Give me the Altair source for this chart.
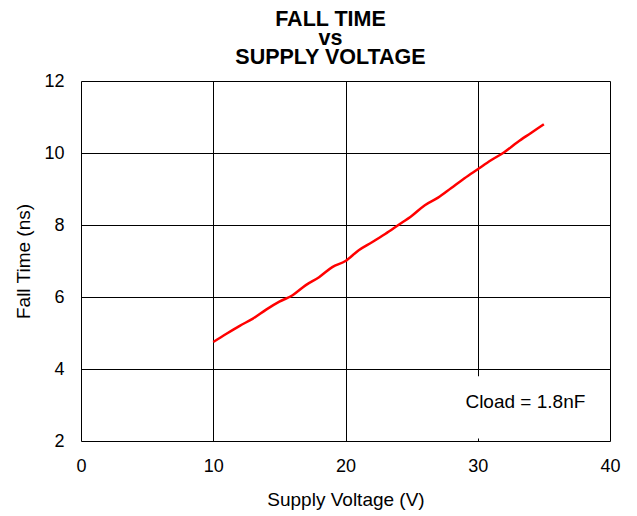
import altair as alt
import pandas as pd

voltage = [10, 11, 12, 13, 14, 15, 16, 17, 18, 19, 20, 21, 22, 23, 24, 25, 26, 27, 28, 29, 30, 31, 32, 33, 34, 35]
fall_time = [4.75, 4.98, 5.2, 5.4, 5.65, 5.87, 6.05, 6.33, 6.55, 6.83, 7.0, 7.3, 7.52, 7.75, 8.0, 8.25, 8.55, 8.76, 9.03, 9.3, 9.55, 9.8, 10.02, 10.3, 10.55, 10.8]
x_ticks = [0, 10, 20, 30, 40]
y_ticks = [2, 4, 6, 8, 10, 12]
note = "Cload = 1.8nF"

df = pd.DataFrame({"v": voltage, "t": fall_time})
FONT = "Liberation Sans"

xs = alt.Scale(domain=[0, 40], nice=False)
ys = alt.Scale(domain=[2, 12], nice=False)

common = dict(grid=True, gridColor="#000000", gridOpacity=1, gridWidth=1,
              ticks=False, domain=False, labelFlush=False, labelOverlap=False,
              labelFontSize=18, titleFontSize=19, labelFont=FONT, titleFont=FONT,
              labelColor="#000000", titleColor="#000000", titleFontWeight="normal")

line = alt.Chart(df).mark_line(color="#ff0000", strokeWidth=2.5, interpolate="monotone").encode(
    x=alt.X("v:Q", scale=xs, title="Supply Voltage (V)",
            axis=alt.Axis(values=x_ticks, labelPadding=16, titlePadding=15, **common)),
    y=alt.Y("t:Q", scale=ys, title="Fall Time (ns)",
            axis=alt.Axis(values=y_ticks, labelPadding=17, titlePadding=10, **common)),
)

box = alt.Chart(pd.DataFrame({"a": [0]})).mark_rect(fill="#ffffff", stroke=None).encode(
    x=alt.datum(28.5, scale=xs), x2=alt.datum(39.85),
    y=alt.datum(2.07, scale=ys), y2=alt.datum(3.8),
)

label = alt.Chart(pd.DataFrame({"a": [0]})).mark_text(
    text=note, font=FONT, fontSize=19, color="#000000", align="center", baseline="middle"
).encode(x=alt.datum(33.6, scale=xs), y=alt.datum(3.08, scale=ys))

chart = alt.layer(box, line, label).properties(
    width=529, height=360,
    autosize=alt.AutoSizeParams(type="none"),
    padding={"left": 73, "top": 73, "right": 19, "bottom": 75},
    title=alt.TitleParams(["FALL TIME", "vs", "SUPPLY VOLTAGE"], font=FONT, fontSize=21.5,
                          fontWeight="bold", color="#000000", anchor="middle", dx=-15,
                          lineHeight=19, offset=4),
).configure_view(stroke="#000000", strokeWidth=2.5).configure(background="#ffffff")

chart.save("out.html", embed_options={"renderer": "svg", "actions": False})
